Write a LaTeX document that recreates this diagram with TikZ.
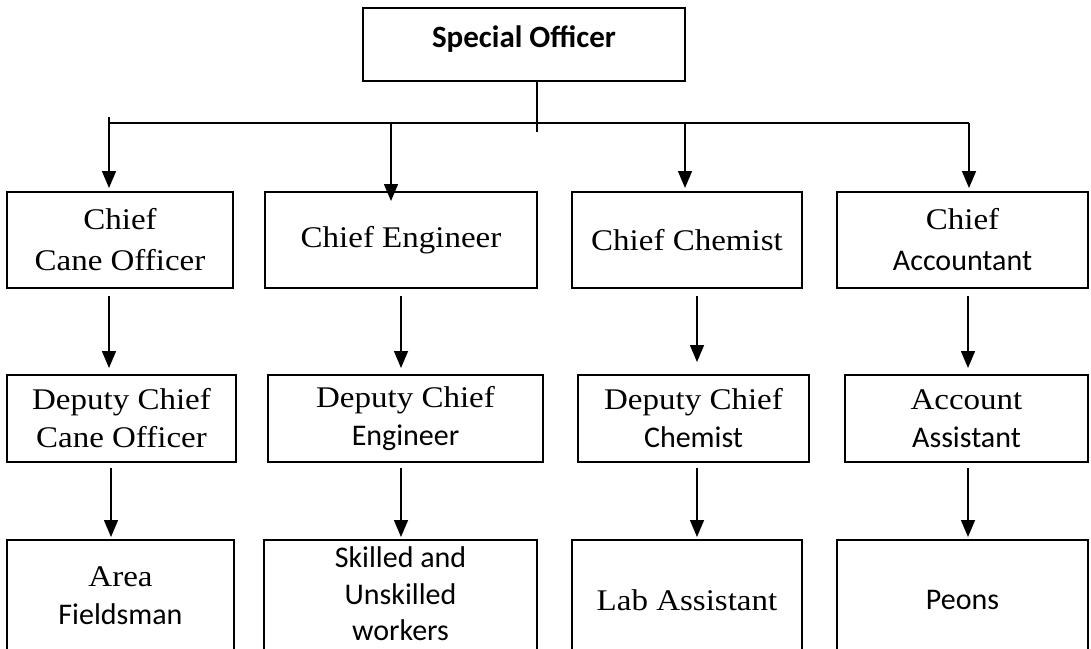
\documentclass[tikz,border=0pt]{standalone}
\usepackage{fontspec}
\setmainfont{Liberation Serif}
\newfontfamily\serf[FakeStretch=1.1]{Liberation Serif}
\newfontfamily\sanf{Carlito}
\usetikzlibrary{arrows.meta}
\begin{document}
\begin{tikzpicture}[x=1pt,y=-1pt,
  box/.style={draw, line width=2pt, inner sep=0pt, align=center,
              font=\fontsize{30}{38}\selectfont},
  conn/.style={line width=1.5pt},
  arr/.style={conn, -{Triangle[width=14pt,length=17pt]}}]
\useasboundingbox[fill=white] (0,0) rectangle (1091,648);

% top
\node[draw, line width=1.5pt, inner sep=0pt, minimum width=322pt, minimum height=73pt,
      font=\sanf\bfseries\fontsize{31}{36}\selectfont] (so) at (524,44.5)
      {\raisebox{5pt}[\height][\depth]{Special Officer}};

% row 1
\node[box, minimum width=226pt, minimum height=96pt, font=\fontsize{30}{41}\selectfont] (a1) at (120,240)
  {{\serf Chief}\\{\serf Cane Officer}};
\node[box, minimum width=272pt, minimum height=96pt] (b1) at (401,240) {{\serf Chief Engineer}};
\node[box, minimum width=230pt, minimum height=96pt] (c1) at (687,240) {{\serf Chief Chemist}};
\node[box, minimum width=251pt, minimum height=96pt, font=\fontsize{30}{41}\selectfont] (d1) at (962.5,240)
  {{\serf Chief}\\{\sanf Accountant}};

% row 2
\node[box, minimum width=229pt, minimum height=87pt] (a2) at (121.5,418.5)
  {{\serf Deputy Chief}\\{\serf Cane Officer}};
\node[box, minimum width=275pt, minimum height=87pt] (b2) at (405.5,418.5)
  {{\serf Deputy Chief}\\{\sanf Engineer}};
\node[box, minimum width=231pt, minimum height=87pt] (c2) at (693.5,418.5)
  {{\serf Deputy Chief}\\{\sanf Chemist}};
\node[box, minimum width=243pt, minimum height=87pt] (d2) at (966.5,418.5)
  {{\serf Account}\\{\sanf Assistant}};

% row 3
\node[box, minimum width=227pt, minimum height=120pt] (a3) at (120.5,600)
  {\raisebox{4pt}[\height][\depth]{\serf Area}\\\raisebox{4pt}[\height][\depth]{\sanf Fieldsman}};
\node[box, minimum width=273pt, minimum height=120pt, font=\fontsize{30}{36.5}\selectfont] (b3) at (400.5,600)
  {\raisebox{6pt}[\height][\depth]{\sanf Skilled and}\\\raisebox{6pt}[\height][\depth]{\sanf Unskilled}\\\raisebox{6pt}[\height][\depth]{\sanf workers}};
\node[box, minimum width=230pt, minimum height=120pt] (c3) at (687,600) {{\serf Lab Assistant}};
\node[box, minimum width=251pt, minimum height=120pt] (d3) at (962.5,600) {{\sanf Peons}};

% coordinates
\coordinate (tick) at (109,117);
\coordinate (busL) at (109,123);
\coordinate (bus2) at (391,123);
\coordinate (bus3) at (685,123);
\coordinate (busR) at (969,123);
\coordinate (soend) at (537,132);
\coordinate (sox) at (537,0);
\coordinate (tipb) at (391,201);
\coordinate (xa) at (109,0);
\coordinate (xb) at (401,0);
\coordinate (xc) at (697,0);
\coordinate (xd) at (968,0);
\coordinate (ya) at (111,0);

% top connectors
\draw[conn] (so.south -| sox) -- (soend);
\draw[conn] (tick) -- (busL) -- (busR);
\draw[arr, shorten >=3pt] (busL) -- (a1.north -| busL);
\draw[arr] (bus2) -- (tipb);
\draw[arr, shorten >=3pt] (bus3) -- (c1.north -| bus3);
\draw[arr, shorten >=3pt] (busR) -- (d1.north -| busR);

% row 1 -> row 2
\draw[arr, shorten <=7pt, shorten >=6pt] (a1.south -| xa) -- (a2.north -| xa);
\draw[arr, shorten <=7pt, shorten >=6pt] (b1.south -| xb) -- (b2.north -| xb);
\draw[arr, shorten <=7pt, shorten >=12pt] (c1.south -| xc) -- (c2.north -| xc);
\draw[arr, shorten <=7pt, shorten >=6pt] (d1.south -| xd) -- (d2.north -| xd);

% row 2 -> row 3
\draw[arr, shorten <=5pt, shorten >=2pt] (a2.south -| ya) -- (a3.north -| ya);
\draw[arr, shorten <=5pt, shorten >=2pt] (b2.south -| xb) -- (b3.north -| xb);
\draw[arr, shorten <=5pt, shorten >=2pt] (c2.south -| xc) -- (c3.north -| xc);
\draw[arr, shorten <=5pt, shorten >=2pt] (d2.south -| xd) -- (d3.north -| xd);
\end{tikzpicture}
\end{document}
